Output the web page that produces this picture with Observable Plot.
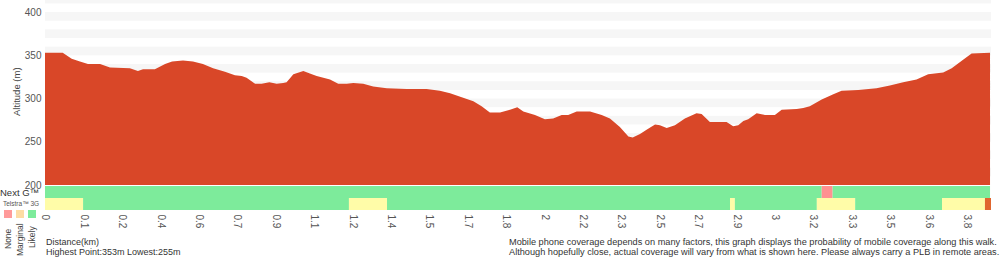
<!DOCTYPE html>
<html><head><meta charset="utf-8">
<script src="https://cdn.jsdelivr.net/npm/d3@7"></script>
<script src="https://cdn.jsdelivr.net/npm/@observablehq/plot@0.6"></script>
<style>
body{margin:0;background:#fff;font-family:"Liberation Sans",Arial,sans-serif;}
#wrap{position:relative;width:1000px;height:260px;overflow:hidden;background:#fff;}
#elev{position:absolute;left:0;top:0;z-index:2;}
#cov{position:absolute;left:0;top:185px;z-index:1;}
.t{position:absolute;white-space:nowrap;line-height:1;}
.rot{position:absolute;white-space:nowrap;line-height:1;transform-origin:0 0;transform:rotate(-90deg);}
.sq{position:absolute;width:8px;height:8px;}
</style></head><body>
<div id="wrap">
  <div id="elev"></div>
  <div id="cov"></div>
  <div class="rot" style="left:12px;top:116px;font-size:9.5px;color:#444;">Altitude (m)</div>
  <div class="t" style="left:0;top:189px;font-size:9.5px;line-height:8px;color:#333;">Next G™</div>
  <div class="t" style="left:3px;top:201px;font-size:6.5px;color:#555;">Telstra™ 3G</div>
  <div class="sq" style="left:4px;top:210px;background:#ff9a9a;"></div>
  <div class="sq" style="left:16px;top:210px;background:#fddca4;"></div>
  <div class="sq" style="left:28px;top:210px;background:#7deb9b;"></div>
  <div class="rot" style="left:4px;top:249px;font-size:8.5px;color:#444;">None</div>
  <div class="rot" style="left:16px;top:256px;font-size:8.5px;color:#444;">Marginal</div>
  <div class="rot" style="left:28px;top:248px;font-size:8.5px;color:#444;">Likely</div>
  <div class="t" style="left:46px;top:238px;font-size:9px;color:#333;">Distance(km)</div>
  <div class="t" style="left:46px;top:248px;font-size:9px;color:#333;">Highest Point:353m Lowest:255m</div>
  <div class="t" style="left:509px;top:238px;font-size:9.2px;color:#333;">Mobile phone coverage depends on many factors, this graph displays the probability of mobile coverage along this walk.</div>
  <div class="t" style="left:509px;top:248px;font-size:9.2px;color:#333;">Although hopefully close, actual coverage will vary from what is shown here. Please always carry a PLB in remote areas.</div>
</div>
<script>
// Elevation profile (distance in km, altitude in m)
const distKm = [0, 0.073, 0.110, 0.144, 0.177, 0.227, 0.268, 0.350, 0.383, 0.404,
  0.453, 0.495, 0.524, 0.569, 0.610, 0.651, 0.693, 0.742, 0.783, 0.811,
  0.831, 0.866, 0.893, 0.925, 0.955, 0.982, 0.996, 1.024, 1.065, 1.092,
  1.120, 1.175, 1.209, 1.244, 1.271, 1.312, 1.353, 1.409, 1.491, 1.532,
  1.573, 1.628, 1.670, 1.724, 1.766, 1.800, 1.834, 1.876, 1.917, 1.947,
  1.972, 2.020, 2.061, 2.095, 2.130, 2.157, 2.192, 2.247, 2.295, 2.329,
  2.370, 2.405, 2.423, 2.453, 2.480, 2.515, 2.535, 2.563, 2.597, 2.638,
  2.686, 2.707, 2.741, 2.810, 2.837, 2.858, 2.879, 2.899, 2.934, 2.968,
  3.009, 3.037, 3.099, 3.126, 3.153, 3.202, 3.250, 3.284, 3.353, 3.428,
  3.483, 3.538, 3.593, 3.641, 3.703, 3.738, 3.785, 3.820, 3.896];
const altitudeM = [353,353,346,343,340,340,336,335,332,334,
  334,340,343,344,343,340,335,331,327,326,
  324,317,317,319,317,318,319,328,332,329,
  326,322,317,317,318,317,314,312,311,311,
  311,309,306,301,297,291,284,284,287,290,
  285,281,276,277,281,281,285,285,281,277,
  267,256,255,259,264,270,269,266,269,277,
  283,282,273,273,268,269,274,276,283,281,
  281,287,288,289,291,299,305,309,310,312,
  315,319,322,328,330,335,345,352,353];

// x tick labels (one every tick step)
const xTickLabels = ["0","0.1","0.2","0.4","0.6","0.7","0.9","1.1","1.2","1.4","1.5","1.7","1.8","2","2.2","2.3","2.5","2.7","2.9","3","3.2","3.3","3.5","3.6","3.8"];
const yTicks = [200, 250, 300, 350, 400];

// Coverage segments
const nextGStart  = [0, 3.202, 3.247];
const nextGEnd    = [3.202, 3.247, 3.896];
const nextGStatus = ["Likely", "None", "Likely"];
const tel3GStart  = [0, 0.157, 1.253, 1.410, 2.824, 2.844, 3.182, 3.340, 3.698, 3.875];
const tel3GEnd    = [0.157, 1.253, 1.410, 2.824, 2.844, 3.182, 3.340, 3.698, 3.875, 3.900];
const tel3GStatus = ["Marginal","Likely","Marginal","Likely","Marginal","Likely","Marginal","Likely","Marginal","Unknown"];

const statusColor = {Likely: "#7deb9b", Marginal: "#fffca8", None: "#ff9191", Unknown: "#e0662f"};

const X_MAX = 3.9;
const tickStep = 3.8 / (xTickLabels.length - 1);
const tickPos = xTickLabels.map((_, i) => i * tickStep);

const profile = distKm.map((k, i) => ({km: k, alt: altitudeM[i]}));
const coverage = [
  ...nextGStart.map((s, i) => ({row: "Next G", start: s, end: nextGEnd[i], status: nextGStatus[i]})),
  ...tel3GStart.map((s, i) => ({row: "Telstra 3G", start: s, end: tel3GEnd[i], status: tel3GStatus[i]}))
];

const Y_MIN = 200, Y_MAX = 414;
const bands = d3.range(210, 420, 20);

const elev = Plot.plot({
  width: 1000, height: 185,
  marginLeft: 45, marginRight: 9, marginTop: 0, marginBottom: 0,
  style: {fontFamily: "Liberation Sans, Arial, sans-serif", fontSize: "10px", color: "#555", background: "transparent", overflow: "visible"},
  x: {domain: [0, X_MAX], axis: null},
  y: {domain: [Y_MIN, Y_MAX], ticks: yTicks, tickSize: 0, tickPadding: 4, label: null},
  marks: [
    Plot.rect(bands, {x1: () => 0, x2: () => X_MAX, y1: d => d, y2: d => Math.min(d + 10, Y_MAX), fill: "#f6f6f6"}),
    Plot.areaY(profile, {x: "km", y1: Y_MIN, y2: "alt", fill: "#d94728", curve: "linear"})
  ]
});
document.getElementById("elev").appendChild(elev);

const cov = Plot.plot({
  width: 1000, height: 75,
  marginLeft: 45, marginRight: 9, marginTop: 0, marginBottom: 50,
  style: {fontFamily: "Liberation Sans, Arial, sans-serif", fontSize: "10px", color: "#555", background: "transparent"},
  x: {domain: [0, X_MAX], ticks: tickPos, tickFormat: d => xTickLabels[Math.round(d / tickStep)], tickRotate: 90, tickSize: 0, tickPadding: 4, label: null},
  y: {domain: ["Next G", "Telstra 3G"], axis: null, padding: 0},
  marks: [
    Plot.rect(coverage, {x1: "start", x2: "end", y: "row", fill: d => statusColor[d.status]})
  ]
});
document.getElementById("cov").appendChild(cov);
</script>
</body></html>
